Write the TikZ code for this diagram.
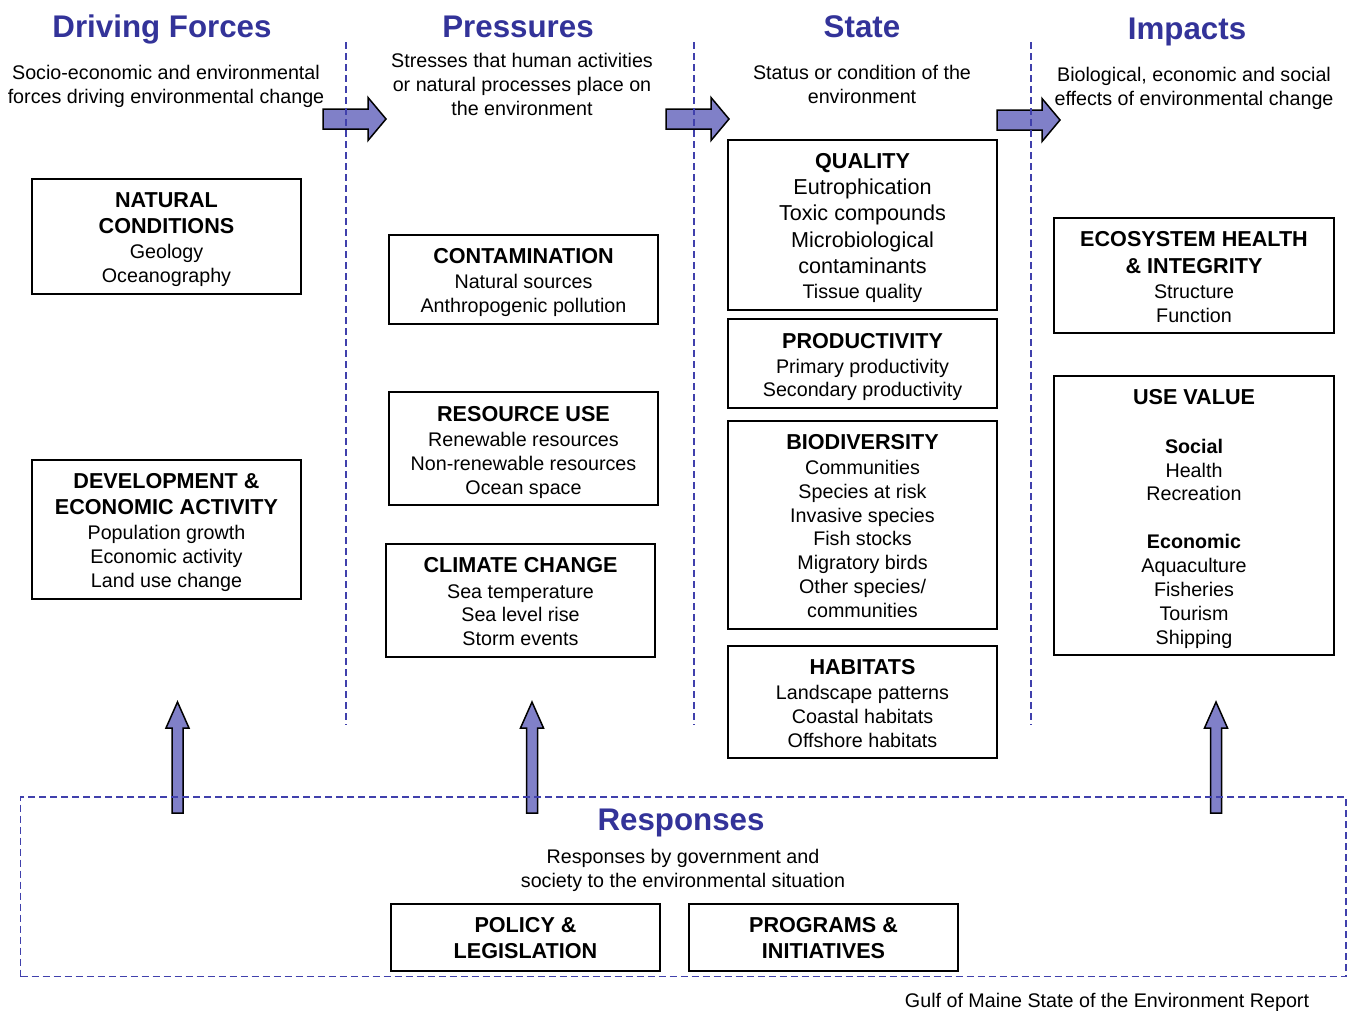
\documentclass[tikz,border=0pt]{standalone}
\usepackage{fontspec}
\setmainfont{Liberation Sans}
\usetikzlibrary{fit}

\definecolor{titleblue}{RGB}{51,51,153}
\definecolor{dashblue}{RGB}{64,64,172}
\definecolor{arrowfill}{RGB}{128,128,200}

\newcommand\fbody{\fontsize{19.7}{24}\selectfont}
\newcommand\fbig{\fontsize{21.6}{26}\selectfont}
\newcommand\fhead{\fontsize{21.6}{26}\selectfont\bfseries}
\newcommand\ftitle{\fontsize{31.3}{36}\selectfont\bfseries}

% one line of text, centred on (x,y)
\newcommand\putline[4]{\node[#1] at (#2,#3) {#4};}

% block arrow pointing right: left end x, centre y
\newcommand\rightblock[3]{%
  \draw[blockarrow] (#2,#3-10) -- (#2+45,#3-10) -- (#2+45,#3-21.5)
    -- (#2+63,#3) -- (#2+45,#3+21.5) -- (#2+45,#3+10) -- (#2,#3+10) -- cycle;
  \coordinate (#1) at (#2+63,#3);}
% block arrow pointing up: centre x
\newcommand\upblock[2]{%
  \draw[blockarrow] (#2-5.5,813) -- (#2-5.5,728) -- (#2-11.5,728)
    -- (#2,702) -- (#2+11.5,728) -- (#2+5.5,728) -- (#2+5.5,813) -- cycle;
  \coordinate (#1) at (#2,702);}

\begin{document}
\begin{tikzpicture}[x=1pt,y=-1pt,
  box/.style={draw=black, line width=1.4pt, inner sep=0pt},
  blockarrow/.style={draw=black, fill=arrowfill, line width=1.5pt, line join=miter},
  divider/.style={draw=dashblue, line width=1.3pt, dash pattern=on 7pt off 4pt},
  ttl/.style={font=\ftitle, text=titleblue, inner sep=0pt, text height=22.4pt, text depth=0pt},
  hd/.style={font=\fhead, inner sep=0pt, text height=15.5pt, text depth=0pt},
  bd/.style={font=\fbody, inner sep=0pt, text height=14.1pt, text depth=0pt},
  bdb/.style={font=\fbody\bfseries, inner sep=0pt, text height=14.1pt, text depth=0pt},
  big/.style={font=\fbig, inner sep=0pt, text height=15.5pt, text depth=0pt}]

\useasboundingbox (0,0) rectangle (1348,1010);

% ---------- block arrows ----------
\rightblock{a1}{323}{119}
\rightblock{a2}{666}{119}
\rightblock{a3}{997}{120}
\upblock{u1}{177.5}
\upblock{u2}{532}
\upblock{u3}{1216}

% ---------- dashed dividers and response frame ----------
\foreach \xx in {346,694,1031}
  \draw[divider] (\xx,42) -- (\xx,725);
\node[draw=dashblue, line width=1.3pt, dash pattern=on 7pt off 4pt, inner sep=0pt,
      fit={(20.5,797)(1346,976.5)}] (resp) {};

% ---------- column titles ----------
\putline{ttl}{162}{26}{Driving Forces}
\putline{ttl}{518}{26}{Pressures}
\putline{ttl}{862}{26}{State}
\putline{ttl}{1187}{28}{Impacts}
\putline{ttl}{681}{819}{Responses}

% ---------- column descriptions ----------
\putline{bd}{166}{72}{Socio-economic and environmental}
\putline{bd}{166}{96}{forces driving environmental change}
\putline{bd}{522}{60}{Stresses that human activities}
\putline{bd}{522}{84}{or natural processes place on}
\putline{bd}{522}{108}{the environment}
\putline{bd}{862}{72}{Status or condition of the}
\putline{bd}{862}{96}{environment}
\putline{bd}{1194}{74}{Biological, economic and social}
\putline{bd}{1194}{98}{effects of environmental change}
\putline{bd}{683}{856}{Responses by government and}
\putline{bd}{683}{880}{society to the environmental situation}

% ---------- Driving forces ----------
\node[box, fit={(32,179)(301,294)}] (natural) {};
\putline{hd}{166.5}{200}{NATURAL}
\putline{hd}{166.5}{226}{CONDITIONS}
\putline{bd}{166.5}{251}{Geology}
\putline{bd}{166.5}{275}{Oceanography}

\node[box, fit={(32,460)(301,599)}] (develop) {};
\putline{hd}{166.5}{481}{DEVELOPMENT \&}
\putline{hd}{166.5}{507}{ECONOMIC ACTIVITY}
\putline{bd}{166.5}{532}{Population growth}
\putline{bd}{166.5}{556}{Economic activity}
\putline{bd}{166.5}{580}{Land use change}

% ---------- Pressures ----------
\node[box, fit={(389,235)(658,324)}] (contam) {};
\putline{hd}{523.5}{256}{CONTAMINATION}
\putline{bd}{523.5}{281}{Natural sources}
\putline{bd}{523.5}{305}{Anthropogenic pollution}

\node[box, fit={(389,392)(658,505)}] (resource) {};
\putline{hd}{523.5}{414}{RESOURCE USE}
\putline{bd}{523.5}{439}{Renewable resources}
\putline{bd}{523.5}{463}{Non-renewable resources}
\putline{bd}{523.5}{487}{Ocean space}

\node[box, fit={(386,544)(655,657)}] (climate) {};
\putline{hd}{520.5}{565}{CLIMATE CHANGE}
\putline{bd}{520.5}{591}{Sea temperature}
\putline{bd}{520.5}{614}{Sea level rise}
\putline{bd}{520.5}{638}{Storm events}

% ---------- State ----------
\node[box, fit={(728,140)(997,310)}] (quality) {};
\putline{hd}{862.5}{161}{QUALITY}
\putline{big}{862.5}{187}{Eutrophication}
\putline{big}{862.5}{213}{Toxic compounds}
\putline{big}{862.5}{240}{Microbiological}
\putline{big}{862.5}{266}{contaminants}
\putline{bd}{862.5}{291}{Tissue quality}

\node[box, fit={(728,319)(997,408)}] (product) {};
\putline{hd}{862.5}{341}{PRODUCTIVITY}
\putline{bd}{862.5}{366}{Primary productivity}
\putline{bd}{862.5}{389}{Secondary productivity}

\node[box, fit={(728,421)(997,629)}] (biodiv) {};
\putline{hd}{862.5}{442}{BIODIVERSITY}
\putline{bd}{862.5}{467}{Communities}
\putline{bd}{862.5}{491}{Species at risk}
\putline{bd}{862.5}{515}{Invasive species}
\putline{bd}{862.5}{538}{Fish stocks}
\putline{bd}{862.5}{562}{Migratory birds}
\putline{bd}{862.5}{586}{Other species/}
\putline{bd}{862.5}{610}{communities}

\node[box, fit={(728,646)(997,758)}] (habitat) {};
\putline{hd}{862.5}{667}{HABITATS}
\putline{bd}{862.5}{692}{Landscape patterns}
\putline{bd}{862.5}{716}{Coastal habitats}
\putline{bd}{862.5}{740}{Offshore habitats}

% ---------- Impacts ----------
\node[box, fit={(1054,218)(1334,333)}] (ecohealth) {};
\putline{hd}{1194}{239}{ECOSYSTEM HEALTH}
\putline{hd}{1194}{266}{\& INTEGRITY}
\putline{bd}{1194}{291}{Structure}
\putline{bd}{1194}{315}{Function}

\node[box, fit={(1054,376)(1334,655)}] (usevalue) {};
\putline{hd}{1194}{397}{USE VALUE}
\putline{bdb}{1194}{446}{Social}
\putline{bd}{1194}{470}{Health}
\putline{bd}{1194}{493}{Recreation}
\putline{bdb}{1194}{541}{Economic}
\putline{bd}{1194}{565}{Aquaculture}
\putline{bd}{1194}{589}{Fisheries}
\putline{bd}{1194}{613}{Tourism}
\putline{bd}{1194}{637}{Shipping}

% ---------- Responses ----------
\node[box, fit={(391,904)(660,971)}] (policy) {};
\putline{hd}{525.5}{925}{POLICY \&}
\putline{hd}{525.5}{951}{LEGISLATION}

\node[box, fit={(689,904)(958,971)}] (programs) {};
\putline{hd}{823.5}{925}{PROGRAMS \&}
\putline{hd}{823.5}{951}{INITIATIVES}

% ---------- credit ----------
\putline{bd}{1107}{1000}{Gulf of Maine State of the Environment Report}

\end{tikzpicture}
\end{document}
